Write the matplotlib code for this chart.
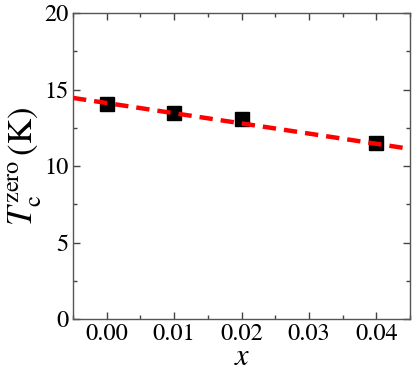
import matplotlib
matplotlib.use("Agg")
import matplotlib.pyplot as plt
from matplotlib.ticker import MultipleLocator

plt.rcParams['font.family'] = ['STIXGeneral', 'DejaVu Serif']
plt.rcParams['mathtext.fontset'] = 'stix'

x_vals = [0.00, 0.01, 0.02, 0.04]
tc_zero = [14.06, 13.46, 13.05, 11.48]
fit_x = [-0.005, 0.045]
fit_y = [14.45, 11.12]
x_ticks = [0.00, 0.01, 0.02, 0.03, 0.04]
x_ticklabels = ['0.00', '0.01', '0.02', '0.03', '0.04']
y_ticks = [0, 5, 10, 15, 20]

fig = plt.figure(figsize=(4.15, 3.72), dpi=100)
ax = fig.add_axes([73/415, 1-319/372, (410-73)/415, (319-13)/372])

ax.plot(fit_x, fit_y, color='#ff0000', lw=3.2, ls=(0, (3.0, 1.8)), zorder=3)
ax.plot(x_vals, tc_zero, ls='none', marker='s', ms=10, color='black', zorder=2)

ax.set_xlim(-0.005, 0.045)
ax.set_ylim(0, 20)
ax.set_xticks(x_ticks)
ax.set_xticklabels(x_ticklabels)
ax.set_yticks(y_ticks)
ax.xaxis.set_minor_locator(MultipleLocator(0.005))
ax.yaxis.set_minor_locator(MultipleLocator(2.5))
ax.tick_params(which='both', direction='in', top=True, right=True, color='#444444', width=1)
ax.tick_params(which='major', length=5, labelsize=17.5, pad=3)
ax.tick_params(which='minor', length=3)
for s in ax.spines.values():
    s.set_color('#555555')
    s.set_linewidth(1)

ax.set_xlabel('x', fontsize=22, fontstyle='italic', family='STIXGeneral', labelpad=-1)
ax.set_ylabel(r'$T_{\rm c}^{\rm zero}\,$(K)', fontsize=25, labelpad=0)

fig.savefig('out.png', dpi=100)
